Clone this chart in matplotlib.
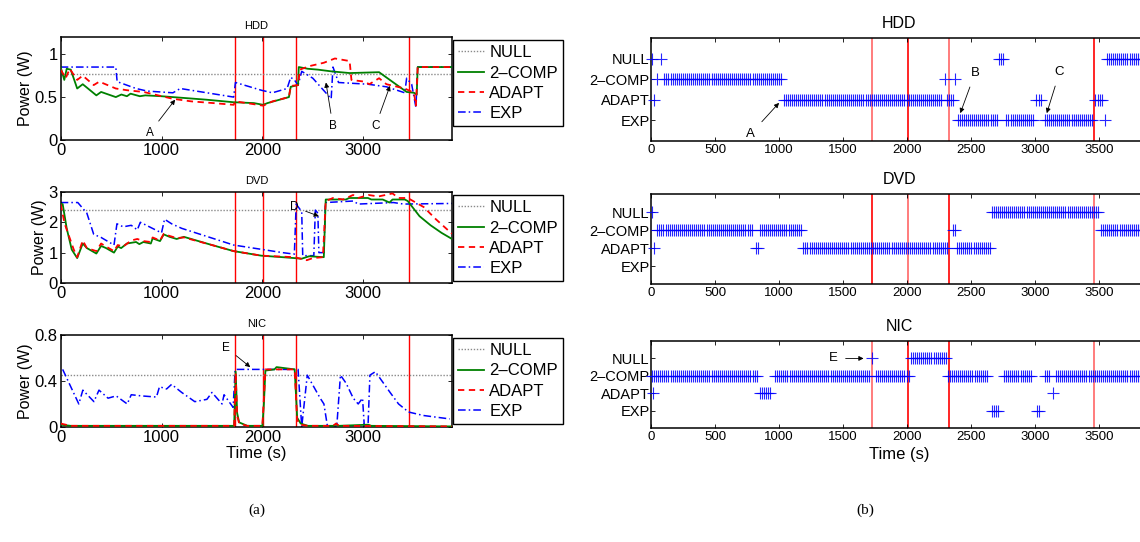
import numpy as np
import matplotlib
matplotlib.use("Agg")
import matplotlib.pyplot as plt

plt.rcParams["font.family"] = ["Liberation Sans", "DejaVu Sans"]

# ---- left column: power traces (time in s, power in W) ----
events = [1725, 2008, 2330, 3458]
policies = ["NULL", "2\u2013COMP", "ADAPT", "EXP"]

hdd_null = 0.77
hdd_2comp_t = [0, 36, 60, 100, 164, 219, 354, 401, 547, 602, 657, 693, 785, 839, 1000, 1222,
               1442, 1715, 1916, 2007, 2050, 2263, 2281, 2354, 2361, 2450, 2550, 2682, 2865,
               3157, 3430, 3503, 3530, 3540, 3880]
hdd_2comp = [0.85, 0.70, 0.83, 0.82, 0.60, 0.65, 0.52, 0.56, 0.50, 0.53, 0.51, 0.54, 0.51, 0.52,
             0.51, 0.49, 0.47, 0.44, 0.43, 0.41, 0.43, 0.50, 0.62, 0.64, 0.85, 0.83, 0.82, 0.80,
             0.78, 0.79, 0.56, 0.55, 0.53, 0.85, 0.85]
hdd_adapt_t = [0, 50, 90, 164, 219, 328, 383, 547, 657, 821, 967, 1113, 1296, 1515, 1715, 1730,
               1900, 2007, 2100, 2263, 2281, 2354, 2372, 2463, 2609, 2719, 2865, 2883, 3011, 3060,
               3157, 3230, 3412, 3503, 3522, 3540, 3880]
hdd_adapt = [0.82, 0.72, 0.83, 0.70, 0.75, 0.64, 0.68, 0.60, 0.58, 0.56, 0.52, 0.48, 0.45, 0.43,
             0.41, 0.45, 0.42, 0.40, 0.45, 0.50, 0.63, 0.64, 0.82, 0.86, 0.90, 0.95, 0.92, 0.70,
             0.68, 0.65, 0.72, 0.65, 0.60, 0.55, 0.40, 0.85, 0.85]
hdd_exp_t = [0, 547, 560, 748, 858, 1113, 1186, 1715, 1733, 1989, 2099, 2245, 2281, 2317, 2354,
             2390, 2500, 2682, 2700, 2755, 3047, 3230, 3412, 3430, 3480, 3522, 3540, 3880]
hdd_exp = [0.85, 0.85, 0.68, 0.60, 0.57, 0.55, 0.60, 0.50, 0.67, 0.58, 0.55, 0.60, 0.73, 0.70,
           0.64, 0.80, 0.72, 0.48, 0.85, 0.67, 0.65, 0.62, 0.55, 0.72, 0.65, 0.38, 0.85, 0.85]

dvd_null = 2.4
dvd_2comp_t = [0, 20, 60, 110, 164, 219, 260, 354, 401, 450, 529, 566, 600, 657, 748, 780, 820,
               894, 912, 985, 1022, 1080, 1150, 1222, 1500, 1715, 1989, 2200, 2317, 2390, 2463,
               2609, 2628, 2828, 2860, 3047, 3080, 3193, 3260, 3290, 3412, 3441, 3558, 3668,
               3777, 3880]
dvd_2comp = [2.6, 2.6, 1.8, 1.1, 0.82, 1.3, 1.15, 0.97, 1.22, 1.15, 1.0, 1.2, 1.15, 1.3, 1.35,
             1.28, 1.35, 1.3, 1.47, 1.38, 1.6, 1.52, 1.45, 1.52, 1.25, 1.05, 0.9, 0.85, 0.82, 0.8,
             0.88, 0.85, 2.75, 2.75, 2.8, 2.8, 2.75, 2.75, 2.65, 2.75, 2.75, 2.7, 2.2, 1.9, 1.65,
             1.45]
dvd_adapt_t = [0, 40, 130, 164, 219, 260, 354, 401, 450, 529, 566, 620, 700, 760, 820, 894, 912,
               985, 1022, 1080, 1150, 1222, 1500, 1715, 1989, 2317, 2440, 2500, 2600, 2628, 2700,
               2800, 2900, 2950, 3050, 3150, 3290, 3350, 3441, 3600, 3720, 3880]
dvd_adapt = [2.6, 1.95, 1.1, 0.85, 1.4, 1.15, 1.05, 1.3, 1.2, 1.05, 1.25, 1.2, 1.4, 1.45, 1.38,
             1.35, 1.5, 1.4, 1.62, 1.55, 1.48, 1.5, 1.25, 1.05, 0.9, 0.85, 0.75, 0.82, 0.85, 2.7,
             2.8, 2.75, 2.9, 2.8, 2.9, 2.85, 2.95, 2.8, 2.8, 2.5, 2.1, 1.62]
dvd_exp_t = [0, 170, 260, 328, 401, 529, 558, 620, 700, 760, 790, 880, 1000, 1030, 1100, 1200,
             1715, 2200, 2317, 2335, 2390, 2400, 2510, 2525, 2550, 2560, 2610, 2625, 2900, 2950,
             3300, 3400, 3880]
dvd_exp = [2.65, 2.65, 2.3, 1.6, 1.5, 1.25, 1.95, 1.85, 1.9, 1.75, 2.0, 1.85, 1.65, 2.1, 1.95,
           1.8, 1.25, 1.0, 0.95, 2.6, 2.35, 0.9, 0.9, 2.4, 2.3, 1.0, 1.0, 2.65, 2.7, 2.6, 2.65,
           2.6, 2.62]

nic_null = 0.45
nic_2comp_t = [0, 100, 1720, 1735, 1750, 1770, 1850, 2000, 2015, 2030, 2120, 2140, 2320, 2345,
               2380, 2450, 2700, 2730, 2760, 3050, 3080, 3880]
nic_2comp = [0.02, 0.01, 0.01, 0.48, 0.12, 0.04, 0.01, 0.01, 0.2, 0.49, 0.5, 0.52, 0.5, 0.08,
             0.03, 0.01, 0.01, 0.02, 0.01, 0.02, 0.01, 0.005]
nic_adapt_t = [0, 100, 1720, 1735, 1750, 1770, 1850, 2000, 2015, 2030, 2320, 2345, 2380, 2450,
               2700, 2730, 2760, 3880]
nic_adapt = [0.03, 0.01, 0.01, 0.47, 0.1, 0.03, 0.01, 0.01, 0.25, 0.5, 0.5, 0.06, 0.02, 0.01,
             0.01, 0.03, 0.01, 0.005]
nic_exp_t = [20, 100, 180, 220, 330, 380, 470, 550, 660, 700, 800, 950, 980, 1050, 1100, 1200,
             1330, 1450, 1500, 1600, 1620, 1710, 1730, 2354, 2390, 2445, 2573, 2610, 2646, 2737,
             2774, 2830, 2901, 2950, 2993, 3011, 3047, 3066, 3120, 3266, 3350, 3449, 3595, 3858]
nic_exp = [0.5, 0.35, 0.2, 0.32, 0.22, 0.32, 0.25, 0.27, 0.2, 0.28, 0.27, 0.26, 0.35, 0.33, 0.37,
           0.3, 0.22, 0.24, 0.3, 0.2, 0.28, 0.17, 0.5, 0.5, 0.0, 0.45, 0.25, 0.2, 0.0, 0.0, 0.45,
           0.38, 0.25, 0.2, 0.25, 0.0, 0.0, 0.45, 0.48, 0.3, 0.2, 0.13, 0.1, 0.07]

# ---- right column: selected policy, as runs (start s, end s, row) ----
# rows: 4 = NULL, 3 = 2-COMP, 2 = ADAPT, 1 = EXP ; one sample every sample_dt seconds
sample_dt = 16
hdd_runs = [(10, 10, 4), (25, 25, 2), (45, 45, 3), (75, 90, 4), (105, 1020, 3),
            (1035, 2280, 2), (2295, 2295, 3), (2310, 2360, 2), (2375, 2375, 3),
            (2395, 2705, 1), (2720, 2755, 4), (2775, 2995, 1), (3005, 3005, 2),
            (3030, 3060, 2), (3075, 3450, 1), (3470, 3530, 2), (3545, 3545, 1),
            (3560, 3880, 4)]
dvd_runs = [(8, 8, 4), (27, 27, 2), (50, 792, 3), (820, 840, 2), (850, 1177, 3),
            (1190, 2318, 2), (2360, 2378, 3), (2390, 2648, 2), (2660, 3500, 4),
            (3514, 3880, 3)]
nic_runs = [(5, 5, 3), (16, 16, 2), (25, 833, 3), (850, 940, 2), (970, 1715, 3),
            (1727, 1727, 4), (1755, 2015, 3), (2030, 2305, 4), (2318, 2635, 3),
            (2660, 2720, 1), (2757, 2965, 3), (3010, 3030, 1), (3075, 3120, 3),
            (3140, 3140, 2), (3160, 3880, 3)]

GREEN, RED, BLUE = "#008000", "#ff0000", "#0000ff"

fig = plt.figure(figsize=(11.4, 5.42), dpi=100)


def style_axes(ax, tick_size):
    for s in ax.spines.values():
        s.set_linewidth(1.1)
    ax.tick_params(direction="in", top=True, right=True, length=3, width=0.6,
                   labelsize=tick_size, pad=2)


def power_panel(rect, title, series, null_val, ylim, yticks, yticklabels, notes):
    ax = fig.add_axes(rect)
    for ev in events:
        ax.axvline(ev, color=RED, lw=1.0, zorder=1)
    ax.axhline(null_val, color="#8a8a8a", ls=(0, (1, 1.2)), lw=1.0, label=policies[0])
    (t2, v2), (ta, va), (te, ve) = series
    ax.plot(t2, v2, color=GREEN, lw=1.3, label=policies[1], zorder=3)
    ax.plot(ta, va, color=RED, lw=1.3, ls=(0, (3.5, 2.5)), label=policies[2], zorder=4)
    ax.plot(te, ve, color=BLUE, lw=1.1, ls=(0, (5, 2, 1, 2)), label=policies[3], zorder=2)
    ax.set_xlim(0, 3880)
    ax.set_ylim(*ylim)
    ax.set_xticks([0, 1000, 2000, 3000])
    ax.set_yticks(yticks)
    ax.set_yticklabels(yticklabels)
    ax.set_ylabel("Power (W)", fontsize=11.5, labelpad=1)
    ax.set_title(title, fontsize=8, pad=6)
    style_axes(ax, 12)
    for txt, xy, xytext in notes:
        ax.annotate(txt, xy=xy, xytext=xytext, fontsize=8.5, ha="center", va="center",
                    arrowprops=dict(arrowstyle="-|>", lw=0.6, color="k", mutation_scale=7,
                                    shrinkA=3, shrinkB=0), zorder=6)
    bb = ax.get_position()
    ax.legend(loc="upper left", bbox_to_anchor=(bb.x1 + 0.0005, bb.y1 - 0.006),
              bbox_transform=fig.transFigure, fontsize=12, frameon=True, fancybox=False,
              edgecolor="k", framealpha=1, borderpad=0.3, labelspacing=0.32,
              handlelength=1.6, handletextpad=0.3, borderaxespad=0)
    ax.get_legend().get_frame().set_linewidth(1.0)
    return ax


def choice_panel(rect, title, runs, ev_alpha, notes):
    ax = fig.add_axes(rect)
    for ev, a in zip(events, ev_alpha):
        ax.axvline(ev, color=RED, lw=1.2, alpha=a, zorder=1)
    for start, end, row in runs:
        times = np.arange(start, end + 1, sample_dt)
        ax.plot(times, np.full(len(times), row), ls="none", marker="+", ms=8, mew=0.8,
                color=BLUE, alpha=0.85, clip_on=False, zorder=3)
    ax.set_xlim(0, 3880)
    ax.set_ylim(0, 5)
    ax.set_xticks(np.arange(0, 3501, 500))
    ax.set_yticks([4, 3, 2, 1])
    ax.set_yticklabels(policies)
    ax.set_title(title, fontsize=11.5, pad=7)
    style_axes(ax, 9.5)
    ax.tick_params(axis="y", labelsize=10.5, pad=1)
    for txt, xy, xytext in notes:
        ax.annotate(txt, xy=xy, xytext=xytext, fontsize=9.5, ha="center", va="center",
                    arrowprops=dict(arrowstyle="-|>", lw=0.6, color="k", mutation_scale=7,
                                    shrinkA=4, shrinkB=0), zorder=6)
    return ax


lx, lw = 0.0532, 0.3433
power_panel([lx, 0.7417, lw, 0.190], "HDD",
            [(hdd_2comp_t, hdd_2comp), (hdd_adapt_t, hdd_adapt), (hdd_exp_t, hdd_exp)],
            hdd_null, (0, 1.2), [0, 0.5, 1], ["0", "0.5", "1"],
            [("A", (1135, 0.47), (880, 0.08)), ("B", (2630, 0.67), (2700, 0.16)),
             ("C", (3265, 0.63), (3120, 0.16))])
power_panel([lx, 0.4779, lw, 0.168], "DVD",
            [(dvd_2comp_t, dvd_2comp), (dvd_adapt_t, dvd_adapt), (dvd_exp_t, dvd_exp)],
            dvd_null, (0, 3), [0, 1, 2, 3], ["0", "1", "2", "3"],
            [("D", (2560, 2.2), (2320, 2.5))])
nic_ax = power_panel([lx, 0.2122, lw, 0.170], "NIC",
                     [(nic_2comp_t, nic_2comp), (nic_adapt_t, nic_adapt), (nic_exp_t, nic_exp)],
                     nic_null, (0, 0.8), [0, 0.4, 0.8], ["0", "0.4", "0.8"],
                     [("E", (1880, 0.52), (1640, 0.69))])
nic_ax.set_xlabel("Time (s)", fontsize=12, labelpad=1)

rx, rw = 0.571, 0.436
choice_panel([rx, 0.7399, rw, 0.190], "HDD", hdd_runs, [0.6, 1, 0.6, 1],
             [("A", (1000, 1.85), (780, 0.35)), ("B", (2415, 1.35), (2530, 3.3)),
              ("C", (3090, 1.35), (3190, 3.35))])
choice_panel([rx, 0.4760, rw, 0.166], "DVD", dvd_runs, [1, 0.6, 1, 0.6], [])
nic_r = choice_panel([rx, 0.2103, rw, 0.1605], "NIC", nic_runs, [0.6, 1, 1, 0.6],
                     [("E", (1660, 4), (1420, 4))])
nic_r.set_xlabel("Time (s)", fontsize=12, labelpad=3)

fig.text(0.2255, 0.058, "(a)", fontsize=11, ha="center", va="center",
         family=["Liberation Serif", "DejaVu Serif"])
fig.text(0.759, 0.058, "(b)", fontsize=11, ha="center", va="center",
         family=["Liberation Serif", "DejaVu Serif"])

fig.savefig("out.png", dpi=100)
